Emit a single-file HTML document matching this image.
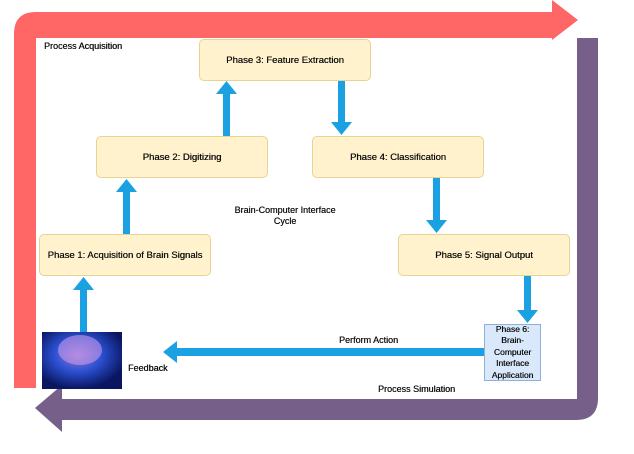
<!DOCTYPE html>
<html><head><style>
body{margin:0;width:634px;height:454px;background:#fff;position:relative;overflow:hidden;font-family:"Liberation Sans",sans-serif;}
.b{position:absolute;background:#fff2cc;border:1px solid #e6d395;border-radius:5px;box-sizing:border-box;font-size:9.5px;color:#111;display:flex;align-items:center;justify-content:center;text-align:center;text-shadow:0.3px 0 0 #111;}
.t{position:absolute;font-size:9px;color:#111;text-shadow:0.3px 0 0 #111;}
</style></head><body>
<svg width="634" height="454" style="position:absolute;left:0;top:0">
<path d="M14 388 V34 Q14 12 36 12 H552 V0 L578 20 L552 40 V38 H36 V388 Z" fill="#ff6666"/>
<path d="M577 38 H598 V398 Q598 420 576 420 H62 V432 L35 408 L62 385 V399 H577 Z" fill="#76608a"/>
<g fill="#1ba1e2">
<rect x="80" y="290" width="7" height="42"/><polygon points="73,290 94,290 83.5,277"/>
<rect x="123" y="192" width="7" height="42"/><polygon points="116,192 137,192 126.5,179"/>
<rect x="223" y="94" width="7" height="42"/><polygon points="216,94 237,94 226.5,81"/>
<rect x="338" y="80" width="7" height="43"/><polygon points="331,122 352,122 341.5,135"/>
<rect x="433" y="178" width="7" height="43"/><polygon points="426,220 447,220 436.5,233"/>
<rect x="524" y="276" width="7" height="35"/><polygon points="517,310 538,310 527.5,323"/>
<rect x="176" y="348" width="308" height="8"/><polygon points="177,341 177,363 163,352"/>
</g>
<defs><radialGradient id="g" cx="45%" cy="40%" r="60%"><stop offset="0" stop-color="#9a7ad8"/><stop offset="0.5" stop-color="#2a4fd0"/><stop offset="1" stop-color="#0a1660"/></radialGradient></defs>
<rect x="42" y="332" width="80" height="57" fill="url(#g)"/>
<ellipse cx="80" cy="350" rx="22" ry="15" fill="#c89ae8" opacity="0.6"/>
</svg>
<div class="b" style="left:199px;top:39px;width:172px;height:42px">Phase 3: Feature Extraction</div>
<div class="b" style="left:96px;top:136px;width:172px;height:42px">Phase 2: Digitizing</div>
<div class="b" style="left:312px;top:136px;width:172px;height:42px">Phase 4: Classification</div>
<div class="b" style="left:39px;top:234px;width:172px;height:42px">Phase 1: Acquisition of Brain Signals</div>
<div class="b" style="left:398px;top:234px;width:172px;height:42px">Phase 5: Signal Output</div>
<div class="b" style="left:484px;top:324px;width:57px;height:57px;background:#dae8fc;border-color:#8fb0d8;border-radius:0;font-size:8.5px;line-height:11.5px">Phase 6: Brain-Computer Interface Application</div>
<div class="t" style="left:44px;top:41px">Process Acquisition</div>
<div class="t" style="left:230px;top:205px;width:110px;text-align:center;line-height:11px">Brain-Computer Interface Cycle</div>
<div class="t" style="left:339px;top:335px">Perform Action</div>
<div class="t" style="left:128px;top:363px">Feedback</div>
<div class="t" style="left:378px;top:384px">Process Simulation</div>
</body></html>
